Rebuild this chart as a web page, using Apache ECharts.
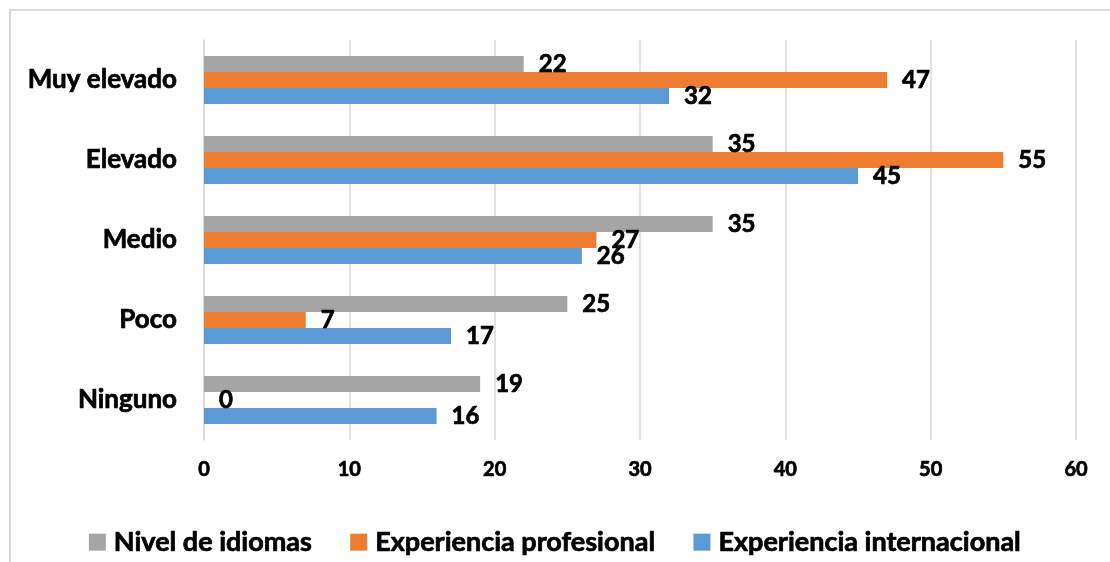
<!DOCTYPE html>
<html>
<head>
<meta charset="utf-8">
<script src="https://cdn.jsdelivr.net/npm/echarts@6/dist/echarts.min.js"></script>
<style>
  html, body { margin: 0; padding: 0; background: #fff; }
  #chart { width: 1110px; height: 562px; }
</style>
</head>
<body>
<div id="chart"></div>
<script>
// Categories listed top to bottom as they appear on the chart
const categories = ['Muy elevado', 'Elevado', 'Medio', 'Poco', 'Ninguno'];
const nivelIdiomas = [22, 35, 35, 25, 19];
const expProfesional = [47, 55, 27, 7, 0];
const expInternacional = [32, 45, 26, 17, 16];
const xTicks = [0, 10, 20, 30, 40, 50, 60];

const FONT = 'Lato';
const GRID_COLOR = '#d9d9d9';

// Heavy black text used for every label on the chart
function boldText(size) {
  return {
    color: '#000',
    fontFamily: FONT,
    fontWeight: 'bold',
    fontSize: size,
    textBorderColor: '#000',
    textBorderWidth: 0.7
  };
}

function barSeries(name, data, color) {
  return {
    name: name,
    type: 'bar',
    data: data,
    barWidth: 16,
    barGap: '0%',
    itemStyle: { color: color },
    label: Object.assign({ show: true, position: 'right', distance: 15 }, boldText(24))
  };
}

const chart = echarts.init(document.getElementById('chart'), null, { renderer: 'canvas' });
chart.setOption({
  animation: false,
  backgroundColor: '#fff',
  graphic: [{
    type: 'rect',
    shape: { x: 10, y: 10, width: 1200, height: 700 },
    style: { fill: 'none', stroke: GRID_COLOR, lineWidth: 2 },
    silent: true,
    z: -1
  }],
  grid: { left: 204, right: 34, top: 40, bottom: 122, containLabel: false },
  legend: {
    data: ['Nivel de idiomas', 'Experiencia profesional', 'Experiencia internacional'],
    bottom: 1,
    left: 'center',
    icon: 'rect',
    itemWidth: 17,
    itemHeight: 17,
    itemGap: 38,
    textStyle: Object.assign({ padding: [0, 0, 0, 3] }, boldText(27))
  },
  xAxis: {
    type: 'value',
    min: xTicks[0],
    max: xTicks[xTicks.length - 1],
    interval: xTicks[1] - xTicks[0],
    axisLine: { show: false },
    axisTick: { show: false },
    splitLine: { show: true, lineStyle: { color: GRID_COLOR, width: 1.5 } },
    axisLabel: Object.assign({ margin: 20 }, boldText(20))
  },
  yAxis: {
    type: 'category',
    data: categories,
    inverse: true,
    axisLine: { show: true, lineStyle: { color: GRID_COLOR, width: 1.5 } },
    axisTick: { show: false },
    axisLabel: Object.assign({ margin: 27 }, boldText(26))
  },
  series: [
    barSeries('Nivel de idiomas', nivelIdiomas, '#A5A5A5'),
    barSeries('Experiencia profesional', expProfesional, '#ED7D31'),
    barSeries('Experiencia internacional', expInternacional, '#5B9BD5')
  ]
});
</script>
</body>
</html>
